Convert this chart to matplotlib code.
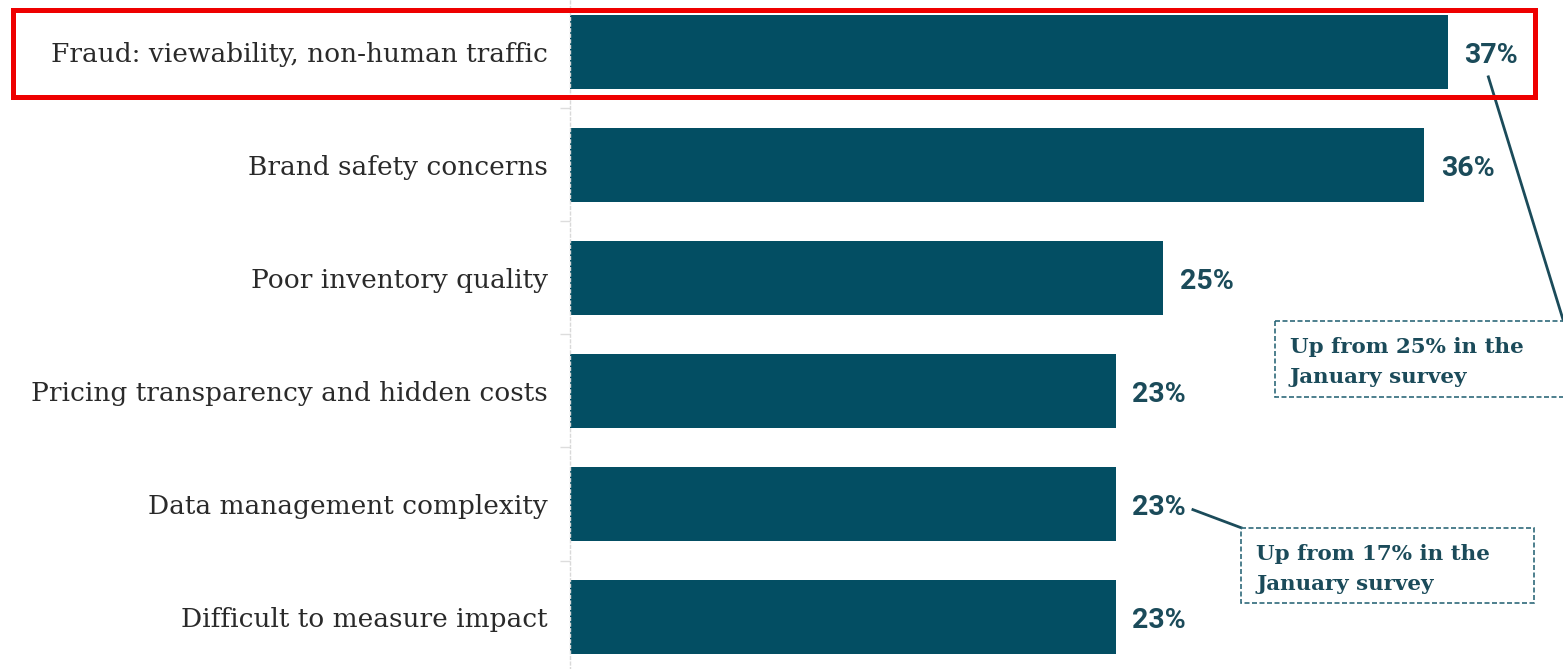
import matplotlib
matplotlib.use("Agg")
import matplotlib.pyplot as plt
from matplotlib.patches import Rectangle

categories = [
    "Fraud: viewability, non-human traffic",
    "Brand safety concerns",
    "Poor inventory quality",
    "Pricing transparency and hidden costs",
    "Data management complexity",
    "Difficult to measure impact",
]
values = [37, 36, 25, 23, 23, 23]
value_labels = [f"{v}%" for v in values]
notes = ["Up from 25% in the\nJanuary survey", "Up from 17% in the\nJanuary survey"]

BAR = "#034e63"
TEXT_DARK = "#1b4b5a"
LABEL = "#2a2a2a"

W, H = 1563, 669
fig = plt.figure(figsize=(W / 100, H / 100), dpi=100)

# axes: left edge at x=570 px, one category = 113 px
unit = 113
ax_bottom_px = 673.5
ax_h_px = 6 * unit
ax = fig.add_axes([570 / W, (H - ax_bottom_px) / H, (W - 570) / W, ax_h_px / H])
ax.set_ylim(5.5, -0.5)
ax.set_xlim(0, (W - 570) / 23.73)

ypos = list(range(len(categories)))
ax.barh(ypos, values, height=0.66, color=BAR, zorder=2)

for y, v, lab in zip(ypos, values, value_labels):
    ax.text(v + 0.7, y + 0.03, lab, va="center", ha="left", fontsize=20.5,
            fontweight="bold", family="Roboto", color=TEXT_DARK)

ax.set_yticks(ypos)
ax.set_yticklabels(categories, family="DejaVu Serif", fontsize=19, color=LABEL)
ax.tick_params(axis="y", which="major", length=0, pad=16)
ax.set_yticks([i + 0.5 for i in range(-1, 6)], minor=True)
ax.tick_params(axis="y", which="minor", length=7, color="#dddddd", width=1)
ax.set_xticks([])
for s in ["top", "right", "bottom"]:
    ax.spines[s].set_visible(False)
ax.spines["left"].set_color("#d9d9d9")
ax.spines["left"].set_linestyle((0, (2, 2)))
ax.spines["left"].set_linewidth(1)

# callout for the first bar
ax.plot([38.7, 41.85], [0.22, 2.37], color=TEXT_DARK, lw=2, clip_on=False, zorder=3)
ax.add_patch(Rectangle((29.7, 2.38), 14, 0.67, fill=False, edgecolor="#2f6a7a",
                       lw=1.2, linestyle=(0, (3, 1.5)), clip_on=True, zorder=3))
ax.text(29.7 + 0.63, 2.745, notes[0], ha="left", va="center", family="DejaVu Serif",
        fontweight="bold", fontsize=15.4, color=TEXT_DARK, linespacing=1.65)

# callout for the fifth bar
ax.plot([26.25, 28.28], [4.05, 4.21], color=TEXT_DARK, lw=2, clip_on=False, zorder=3)
ax.add_patch(Rectangle((28.28, 4.21), 12.35, 0.67, fill=False, edgecolor="#2f6a7a",
                       lw=1.2, linestyle=(0, (3, 1.5)), zorder=3))
ax.text(28.28 + 0.63, 4.575, notes[1], ha="left", va="center", family="DejaVu Serif",
        fontweight="bold", fontsize=15.4, color=TEXT_DARK, linespacing=1.65)

# red highlight frame around the top row
fig.patches.append(Rectangle((12.5 / W, (H - 96.5) / H), 1522 / W, 87 / H,
                             transform=fig.transFigure, fill=False,
                             edgecolor="#ee0000", lw=3.6, zorder=10))

fig.savefig("out.png", dpi=100)
